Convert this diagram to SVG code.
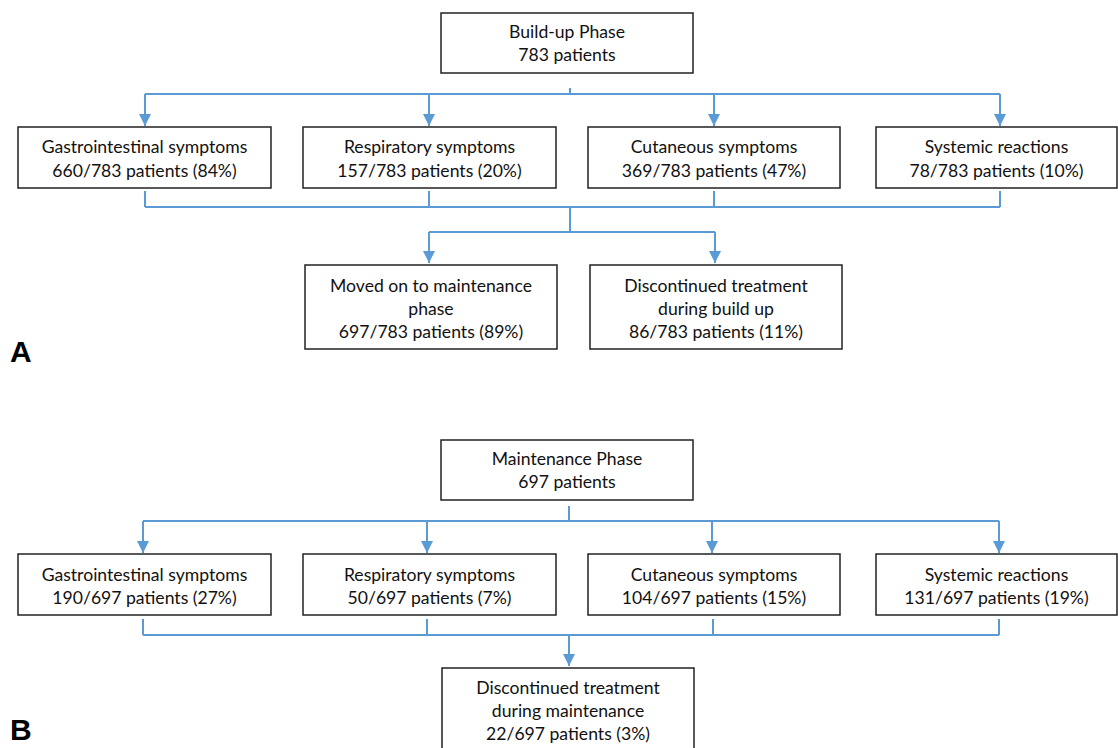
<svg xmlns="http://www.w3.org/2000/svg" width="1118" height="748" viewBox="0 0 1118 748">
<defs>
<style>
.box{fill:#fff;stroke:#222;stroke-width:1.5}
.t{font-family:Lato,"Liberation Sans",sans-serif;font-size:17.6px;fill:#111;text-anchor:middle}
.lbl{font-family:"Liberation Sans",Arial,sans-serif;font-size:30px;font-weight:bold;fill:#000}
.c{fill:none;stroke:#5B9BD5;stroke-width:2}
.a{fill:none;stroke:#5B9BD5;stroke-width:2;marker-end:url(#ah)}
</style>
<marker id="ah" markerUnits="userSpaceOnUse" markerWidth="12" markerHeight="12" refX="10" refY="5" orient="auto" viewBox="0 0 10 10">
<path d="M0,0 L10,5 L0,10 z" fill="#5B9BD5"/>
</marker>
</defs>
<rect width="1118" height="748" fill="#fff"/>

<g id="connectors">
<!-- Panel A -->
<path class="c" d="M570,88 V94 M145,94 H1000"/>
<path class="a" d="M145,94 V126"/>
<path class="a" d="M429,94 V126"/>
<path class="a" d="M714,94 V126"/>
<path class="a" d="M1000,94 V126"/>
<path class="c" d="M145,191 V207 M429,191 V207 M714,191 V207 M1000,191 V207 M145,207 H1000 M570,207 V232 M429,232 H715"/>
<path class="a" d="M429,232 V263"/>
<path class="a" d="M715,232 V263"/>
<!-- Panel B -->
<path class="c" d="M569,506 V521 M143,521 H999"/>
<path class="a" d="M143,521 V553"/>
<path class="a" d="M427,521 V553"/>
<path class="a" d="M712,521 V553"/>
<path class="a" d="M999,521 V553"/>
<path class="c" d="M143,619 V635 M427,619 V635 M713,619 V635 M999,619 V635 M143,635 H999"/>
<path class="a" d="M569,635 V666"/>
</g>

<g id="a-buildup">
<rect class="box" x="441" y="13" width="252" height="60"/>
<text class="t" x="567" y="38">Build-up Phase</text>
<text class="t" x="567" y="61">783 patients</text>
</g>
<g id="a-gi">
<rect class="box" x="18" y="127" width="253" height="61"/>
<text class="t" x="144.5" y="153">Gastrointestinal symptoms</text>
<text class="t" x="144.5" y="177">660/783 patients (84%)</text>
</g>
<g id="a-resp">
<rect class="box" x="303" y="127" width="253" height="61"/>
<text class="t" x="429.5" y="153">Respiratory symptoms</text>
<text class="t" x="429.5" y="177">157/783 patients (20%)</text>
</g>
<g id="a-cut">
<rect class="box" x="588" y="127" width="252" height="61"/>
<text class="t" x="714" y="153">Cutaneous symptoms</text>
<text class="t" x="714" y="177">369/783 patients (47%)</text>
</g>
<g id="a-sys">
<rect class="box" x="876" y="127" width="241" height="61"/>
<text class="t" x="996.5" y="153">Systemic reactions</text>
<text class="t" x="996.5" y="177">78/783 patients (10%)</text>
</g>
<g id="a-moved">
<rect class="box" x="305" y="265" width="252" height="84"/>
<text class="t" x="431" y="292">Moved on to maintenance</text>
<text class="t" x="431" y="315">phase</text>
<text class="t" x="431" y="338">697/783 patients (89%)</text>
</g>
<g id="a-disc">
<rect class="box" x="590" y="265" width="252" height="84"/>
<text class="t" x="716" y="292">Discontinued treatment</text>
<text class="t" x="716" y="315">during build up</text>
<text class="t" x="716" y="338">86/783 patients (11%)</text>
</g>
<text class="lbl" x="10" y="362">A</text>

<g id="b-maint">
<rect class="box" x="441" y="440" width="252" height="60"/>
<text class="t" x="567" y="465">Maintenance Phase</text>
<text class="t" x="567" y="488">697 patients</text>
</g>
<g id="b-gi">
<rect class="box" x="18" y="554" width="253" height="61"/>
<text class="t" x="144.5" y="581">Gastrointestinal symptoms</text>
<text class="t" x="144.5" y="604">190/697 patients (27%)</text>
</g>
<g id="b-resp">
<rect class="box" x="303" y="554" width="253" height="61"/>
<text class="t" x="429.5" y="581">Respiratory symptoms</text>
<text class="t" x="429.5" y="604">50/697 patients (7%)</text>
</g>
<g id="b-cut">
<rect class="box" x="588" y="554" width="252" height="61"/>
<text class="t" x="714" y="581">Cutaneous symptoms</text>
<text class="t" x="714" y="604">104/697 patients (15%)</text>
</g>
<g id="b-sys">
<rect class="box" x="876" y="554" width="241" height="61"/>
<text class="t" x="996.5" y="581">Systemic reactions</text>
<text class="t" x="996.5" y="604">131/697 patients (19%)</text>
</g>
<g id="b-disc">
<rect class="box" x="442" y="668" width="252" height="90"/>
<text class="t" x="568" y="694">Discontinued treatment</text>
<text class="t" x="568" y="717">during maintenance</text>
<text class="t" x="568" y="740">22/697 patients (3%)</text>
</g>
<text class="lbl" x="10" y="740">B</text>
</svg>
